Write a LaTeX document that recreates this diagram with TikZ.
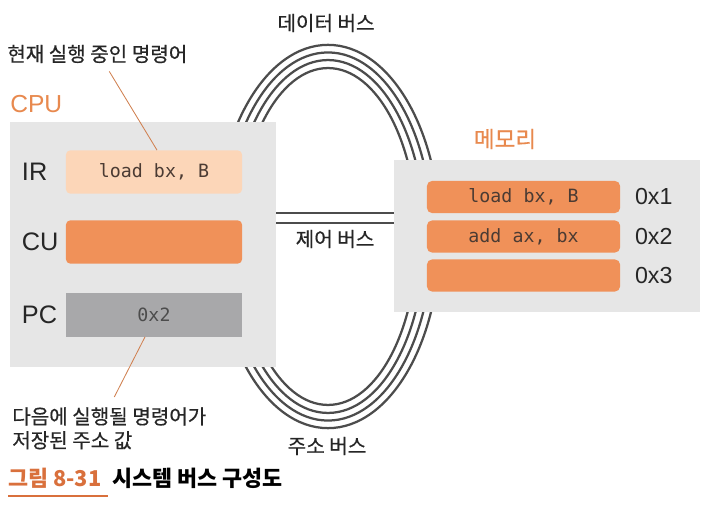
\documentclass[tikz,border=0pt]{standalone}
\usepackage{fontspec}
\setmainfont{Liberation Sans}
\newfontfamily\hangul[FakeBold=0.5]{Noto Sans CJK KR}
\newfontfamily\hangulb{Noto Sans CJK KR}
\newfontfamily\mono{DejaVu Sans Mono}
\usetikzlibrary{positioning}

\definecolor{panelgray}{HTML}{E6E6E6}
\definecolor{peach}{HTML}{FCD6B8}
\definecolor{cellorange}{HTML}{F09159}
\definecolor{pcgray}{HTML}{A8A8AA}
\definecolor{headorange}{HTML}{E8894E}
\definecolor{capred}{HTML}{D9703C}
\definecolor{busgray}{HTML}{4C4C4C}
\definecolor{codebrown}{HTML}{4B3B33}
\definecolor{noteline}{HTML}{D08050}

\newcommand{\fsz}[1]{\fontsize{#1}{#1}\selectfont}

\tikzset{
  panel/.style={fill=panelgray, inner sep=0pt},
  reg/.style={minimum width=4.4cm, minimum height=1.08cm, inner sep=0pt,
    font=\mono\fsz{13pt}},
  cell/.style={fill=cellorange, rounded corners=3.5pt, minimum width=4.825cm,
    minimum height=0.8cm, inner sep=0pt, text=codebrown, font=\mono\fsz{13pt}},
  reglabel/.style={anchor=west, inner sep=0pt, text=black!85, font=\fsz{18pt}},
  addr/.style={inner sep=0pt, text=black!85, font=\fsz{16.5pt}},
  busname/.style={inner sep=0pt, text=black!85, font=\hangul\fsz{14.3pt}},
  head/.style={inner sep=0pt, text=headorange},
  bus/.style={draw=busgray, line width=1.6pt},
  note/.style={draw=noteline, line width=0.6pt},
}

\begin{document}
\begin{tikzpicture}[x=0.025cm, y=-0.025cm]
  \useasboundingbox (0,0) rectangle (720,510);

  %%%%% buses behind the boxes %%%%%
  \foreach \rx/\ry in {2.8/4.79, 2.61/4.6, 2.42/4.41, 2.225/4.21}
    \draw[bus] (328,236.5) ellipse [x radius=\rx cm, y radius=\ry cm];

  %%%%% CPU %%%%%
  \node[panel, minimum width=6.65cm, minimum height=6.125cm] (cpu) at (143,244.5) {};
  \node[head, anchor=west, font=\fsz{17.5pt}] (cpuhead) at (10,104) {CPU};

  \node[reg, fill=peach, rounded corners=3pt, text=codebrown] (irbox) at (154,172) {load bx, B};
  \node[reg, fill=cellorange, rounded corners=3pt] (cubox) at (154,242) {};
  \node[reg, fill=pcgray, text=black!70] (pcbox) at (154,315) {0x2};

  \node[reglabel] (irlbl) at ([xshift=0.3cm]cpu.west |- irbox.center) {IR};
  \node[reglabel] (culbl) at ([xshift=0.3cm]cpu.west |- cubox.center) {CU};
  \node[reglabel] (pclbl) at ([xshift=0.3cm]cpu.west |- pcbox.center) {PC};

  %%%%% memory %%%%%
  \node[panel, minimum width=7.65cm, minimum height=3.8cm] (mem) at (547,236) {};
  \node[head, font=\hangul\fsz{16pt}] (memhead) at (505,139) {메모리};

  \node[cell] (cellA) at (523.5,197) {load bx, B};
  \node[cell] (cellB) at (523.5,236.5) {add ax, bx};
  \node[cell] (cellC) at (523.5,275.5) {};

  \node[addr, right=0.36cm of cellA] (addrA) {0x1};
  \node[addr, right=0.36cm of cellB] (addrB) {0x2};
  \node[addr, right=0.36cm of cellC] (addrC) {0x3};

  %%%%% control bus %%%%%
  \draw[bus, line width=1.8pt] (cpu.east |- 0,213) -- (mem.west |- 0,213);
  \draw[bus, line width=1.8pt] (cpu.east |- 0,223) -- (mem.west |- 0,223);

  \node[busname] (databus) at (326,23) {데이터 버스};
  \node[busname] (ctlbus) at (335,239) {제어 버스};
  \node[busname] (addrbus) at (327,446) {주소 버스};

  %%%%% notes %%%%%
  \node[inner sep=0pt, anchor=west, text=black!85, font=\hangul\fsz{14.3pt}] (curnote) at (7,54) {현재 실행 중인 명령어};
  \draw[note] ([xshift=0.3cm, yshift=-0.2cm]curnote.south) -- ([xshift=0.075cm]irbox.north);

  \node[inner sep=0pt, anchor=north west, align=left, text=black!85,
    font=\hangul\fontsize{14.3pt}{17pt}\selectfont] (nextnote) at (12,407)
    {다음에 실행될 명령어가\\저장된 주소 값};
  \draw[note] ([xshift=-0.225cm]pcbox.south) -- ([xshift=0.125cm, yshift=0.25cm]nextnote.north);

  %%%%% caption %%%%%
  \node[inner sep=0pt, anchor=west, text=capred, font=\hangulb\bfseries\fsz{15.5pt}] (capnum) at (8,478) {그림 8-31};
  \node[inner sep=0pt, anchor=west, font=\hangulb\bfseries\fsz{15.5pt}] (captxt) at (112,478) {시스템 버스 구성도};
  \draw[capred, line width=1.5pt] ([yshift=-0.2cm]capnum.south west) -- ([xshift=0.15cm, yshift=-0.2cm]capnum.south east);
\end{tikzpicture}
\end{document}
